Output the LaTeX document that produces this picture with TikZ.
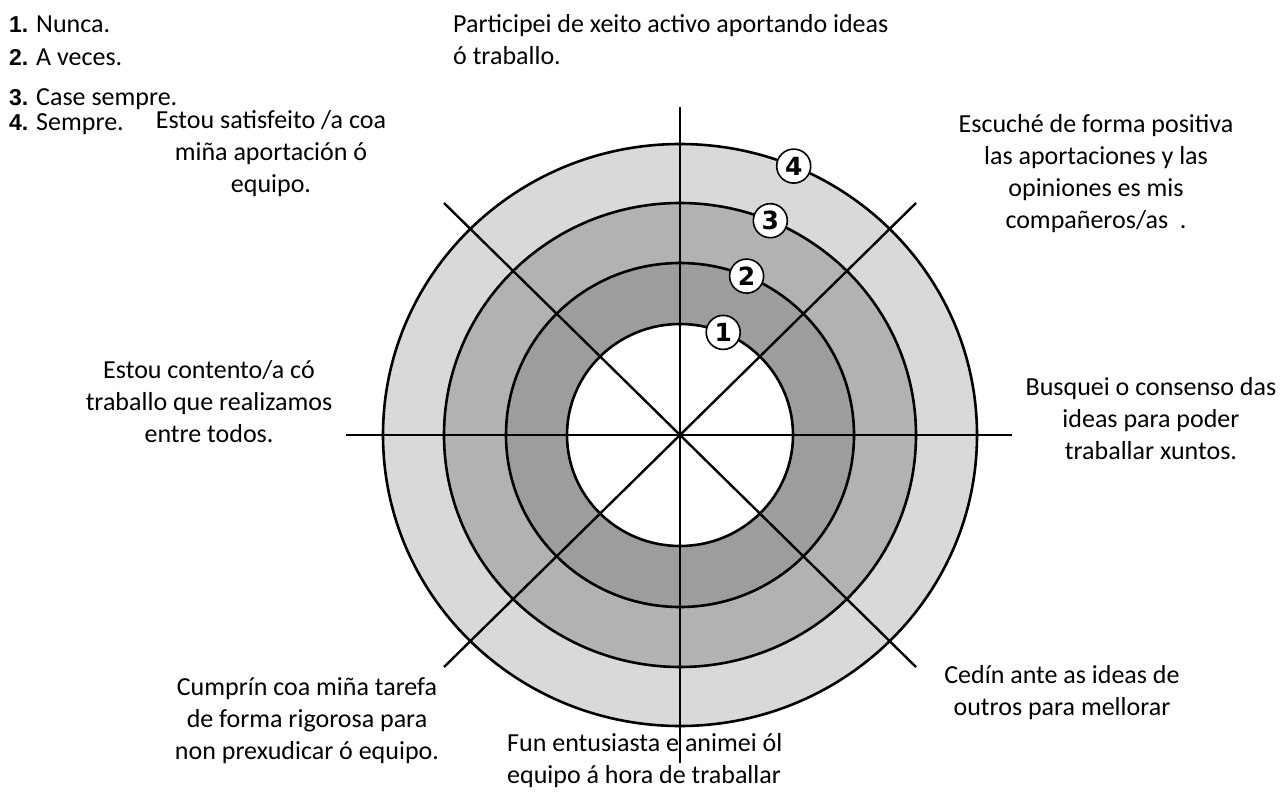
\documentclass[tikz,border=0pt]{standalone}
\usepackage{fontspec}
\setmainfont{Carlito}
\newfontfamily\legnum{Liberation Sans}
\newfontfamily\badgefont{DejaVu Sans}
\definecolor{ringfour}{HTML}{D9D9D9}
\definecolor{ringthree}{HTML}{B2B2B2}
\definecolor{ringtwo}{HTML}{9D9D9D}
\begin{document}
\begin{tikzpicture}[x=1pt,y=-1pt,
  lbl/.style={font=\fontsize{26}{32}\selectfont, align=center, inner sep=0pt},
  leftlbl/.style={font=\fontsize{26}{32}\selectfont, align=left, anchor=west, inner sep=0pt},
  leg/.style={font=\fontsize{26}{32}\selectfont, anchor=base west, inner sep=0pt},
  ring/.style={draw=black, line width=2.6pt},
  axis/.style={draw=black, line width=2.4pt},
  badge/.style={circle, draw=black, fill=white, line width=1.6pt, minimum size=34pt, inner sep=0pt,
    font=\badgefont\bfseries\fontsize{25}{25}\selectfont}]
\useasboundingbox (0,0) rectangle (1282,792);
\newcommand{\lnum}[1]{{\legnum\bfseries\fontsize{23}{26}\selectfont #1}}
% rings
\coordinate (c) at (680,435);
\filldraw[ring, fill=ringfour]  (c) ellipse [x radius=297pt, y radius=291pt];
\filldraw[ring, fill=ringthree] (c) ellipse [x radius=236pt, y radius=232pt];
\filldraw[ring, fill=ringtwo]   (c) ellipse [x radius=174pt, y radius=172pt];
\filldraw[ring, fill=white]     (c) ellipse [x radius=113pt, y radius=111pt];
% axes
\coordinate (n) at (680,107);
\coordinate (s) at (680,763);
\coordinate (w) at (346,435);
\coordinate (e) at (1012,435);
\coordinate (nw) at (444,203);
\coordinate (se) at (916,667);
\coordinate (ne) at (916,203);
\coordinate (sw) at (444,667);
\draw[axis] (n) -- (s);
\draw[axis] (w) -- (e);
\draw[axis] (nw) -- (se);
\draw[axis] (ne) -- (sw);
% badges
\node[badge] (b4) at (793.7,166.1) {4};
\node[badge] (b3) at (770.3,220.7) {3};
\node[badge] (b2) at (746.6,276.1) {2};
\node[badge] (b1) at (723.2,332.4) {1};
% legend
\node[leg] (l1) at (9,33) {\lnum{1.} Nunca.};
\node[leg] (l2) at (9,66) {\lnum{2.} A veces.};
\node[leg] (l3) at (9,105) {\lnum{3.} Case sempre.};
\node[leg] (l4) at (9,130) {\lnum{4.} Sempre.};
% labels
\node[leftlbl] (ta) at (453,40) {Participei de xeito activo aportando ideas\\ó traballo.};
\node[lbl] (tb) at (271,154) {Estou satisfeito /a coa\\miña aportación ó\\equipo.};
\node[lbl] (tc) at (1096,174) {Escuché de forma positiva\\las aportaciones y las\\opiniones es mis\\compañeros/as~~.};
\node[lbl] (td) at (209,402) {Estou contento/a có\\traballo que realizamos\\entre todos.};
\node[lbl] (te) at (1151,419) {Busquei o consenso das\\ideas para poder\\traballar xuntos.};
\node[lbl] (tf) at (307,721) {Cumprín coa miña tarefa\\de forma rigorosa para\\non prexudicar ó equipo.};
\node[lbl] (tg) at (1062,693) {Cedín ante as ideas de\\outros para mellorar};
\node[leftlbl] (th) at (507,761) {Fun entusiasta e animei ól\\equipo á hora de traballar};
\end{tikzpicture}
\end{document}
